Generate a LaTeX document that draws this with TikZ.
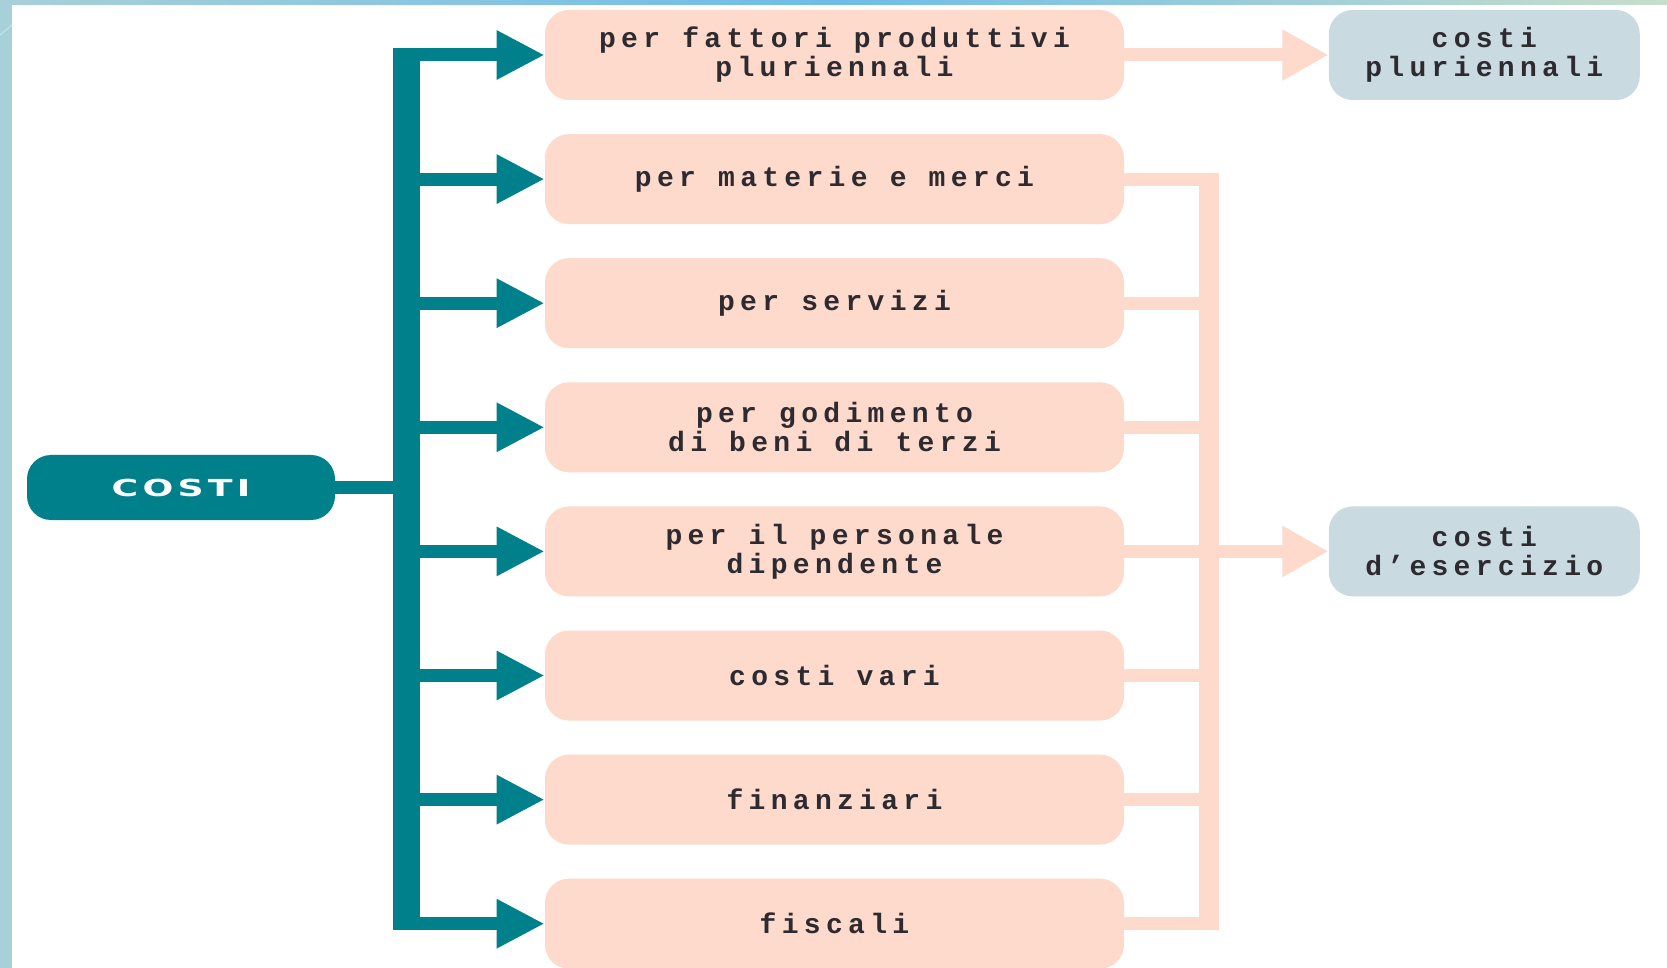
\documentclass[tikz,border=0pt]{standalone}
\usepackage{fontspec}
\usetikzlibrary{positioning}
\usetikzlibrary{arrows.meta}
\usetikzlibrary{calc}
\definecolor{tealblue}{RGB}{0,128,138}
\definecolor{peach}{RGB}{253,218,203}
\definecolor{greyblue}{RGB}{201,219,225}
\definecolor{inktext}{RGB}{45,42,48}
\definecolor{framel}{RGB}{168,208,216}
\definecolor{framem}{RGB}{110,188,232}
\definecolor{framer}{RGB}{200,222,202}
\newfontfamily\voicefont[LetterSpace=19]{Liberation Mono}
\newfontfamily\rootfont[FakeStretch=1.55,LetterSpace=18]{DejaVu Sans}
\tikzset{voice/.style={fill=peach,rounded corners=12pt,minimum width=289.5pt,minimum height=45pt,
                       align=center,text=inktext,font=\voicefont\bfseries\fontsize{14pt}{14.5pt}\selectfont},
         result/.style={voice,fill=greyblue,minimum width=155.5pt},
         root/.style={fill=tealblue,rounded corners=12pt,minimum width=154pt,minimum height=32.5pt,
                      text=white,font=\rootfont\bfseries\fontsize{11.7pt}{14pt}\selectfont},
         branch/.style={tealblue,line width=6.5pt,-{Triangle[length=24pt,width=23pt]}},
         trunkline/.style={tealblue,line width=13.5pt},
         feed/.style={peach,line width=6.5pt},
         feedarrow/.style={feed,-{Triangle[length=23pt,width=24pt]}},
         rail/.style={peach,line width=10pt},
         }
\begin{document}
\begin{tikzpicture}[x=0.5pt,y=-0.5pt]
\useasboundingbox (0,0) rectangle (1667,968);
\fill[white] (0,0) rectangle (1667,968);
% cornice
\shade[left color=framel,right color=framer,middle color=framem] (0,0) rectangle (1667,5);
\fill[framel] (0,0) rectangle (12,968);
\draw[white,opacity=0.4,line width=0.5pt] (0,35) -- (12,25);

% voci di costo
\node[voice] (fatt) at (834.5,55) {per fattori produttivi\\pluriennali};
\node[voice,below=16.65pt of fatt] (mat) {per materie e merci};
\node[voice,below=16.65pt of mat] (serv) {per servizi};
\node[voice,below=16.65pt of serv] (god) {per godimento\\di beni di terzi};
\node[voice,below=16.65pt of god] (pers) {per il personale\\dipendente};
\node[voice,below=16.65pt of pers] (vari) {costi vari};
\node[voice,below=16.65pt of vari] (fin) {finanziari};
\node[voice,below=16.65pt of fin] (fisc) {fiscali};

\node[root] (costi) at (181,487.5) {COSTI};
\node[result,right=102pt of fatt] (plur) {costi\\pluriennali};
\node[result,right=102pt of pers] (eser) {costi\\d’esercizio};

% albero a sinistra
\coordinate (trunk) at (406.5,0);
\draw[trunkline,line width=6.5pt] (costi.east) -- (trunk |- costi.east);
\draw[trunkline] ($(trunk |- fatt.west)+(0,-6.5)$) -- ($(trunk |- fisc.west)+(0,6.5)$);
\draw[branch] (trunk |- fatt.west) -- (fatt.west);
\draw[branch] (trunk |- mat.west) -- (mat.west);
\draw[branch] (trunk |- serv.west) -- (serv.west);
\draw[branch] (trunk |- god.west) -- (god.west);
\draw[branch] (trunk |- pers.west) -- (pers.west);
\draw[branch] (trunk |- vari.west) -- (vari.west);
\draw[branch] (trunk |- fin.west) -- (fin.west);
\draw[branch] (trunk |- fisc.west) -- (fisc.west);

% raccolta a destra
\coordinate (rail) at (1209,0);
\draw[feedarrow] (fatt.east) -- (plur.west);
\draw[feed] (mat.east) -- (rail |- mat.east);
\draw[feed] (serv.east) -- (rail |- serv.east);
\draw[feed] (god.east) -- (rail |- god.east);
\draw[feed] (pers.east) -- (rail |- pers.east);
\draw[feed] (vari.east) -- (rail |- vari.east);
\draw[feed] (fin.east) -- (rail |- fin.east);
\draw[feed] (fisc.east) -- (rail |- fisc.east);
\draw[rail] ($(rail |- mat.east)+(0,-6.5)$) -- ($(rail |- fisc.east)+(0,6.5)$);
\draw[feedarrow] (rail |- pers.east) -- (eser.west);
\end{tikzpicture}
\end{document}
